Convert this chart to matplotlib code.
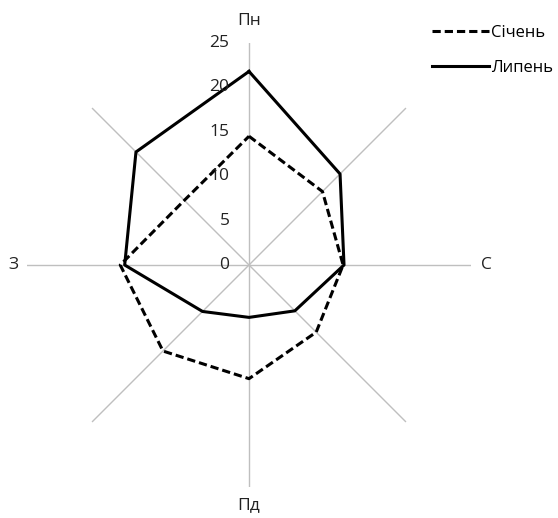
import numpy as np
import matplotlib
matplotlib.use("Agg")
import matplotlib.pyplot as plt

plt.rcParams['font.family'] = ['Open Sans', 'DejaVu Sans']

directions = ["Пн", "ПнС", "С", "ПдС", "Пд", "ПдЗ", "З", "ПнЗ"]
shown_labels = ["Пн", "", "С", "", "Пд", "", "З", ""]
jan = [14.5, 11.7, 10.6, 10.7, 12.8, 13.7, 14.5, 10.3]
jul = [21.8, 14.5, 10.7, 7.3, 5.9, 7.4, 14.0, 18.0]
r_ticks = [0, 5, 10, 15, 20, 25]
series_names = ["Січень", "Липень"]

fig = plt.figure(figsize=(5.58, 5.18), dpi=100)
ax = fig.add_axes([27/558, 31/518, 444/558, 444/518], projection='polar')
ax.set_theta_zero_location('N')
ax.set_theta_direction(-1)
ax.set_ylim(0, 25)

n = len(directions)
theta = np.arange(n) * 2 * np.pi / n
tc = np.append(theta, theta[0])

ax.plot(tc, jan + jan[:1], color='black', lw=2.2, linestyle=(0, (2.7, 1.3)),
        label=series_names[0], zorder=3)
ax.plot(tc, jul + jul[:1], color='black', lw=2.2, label=series_names[1], zorder=3)

# spokes
for t in theta:
    ax.plot([t, t], [0, 25], color='#bfbfbf', lw=1, zorder=1)

ax.grid(False)
ax.spines['polar'].set_visible(False)
ax.set_xticks([])
ax.set_yticks([])
ax.patch.set_alpha(0)

for r in r_ticks:
    ax.annotate(str(r), xy=(0, r), xytext=(-14, 0), textcoords='offset points',
                ha='right', va='center', fontsize=12.5, color='#222222')

offsets = {0: (0, 16, 'center', 'center'), 2: (7, 0, 'left', 'center'),
           4: (0, -13, 'center', 'center'), 6: (-6, 0, 'right', 'center')}
for i, lab in enumerate(shown_labels):
    if lab:
        dx, dy, ha, va = offsets[i]
        ax.annotate(lab, xy=(theta[i], 25), xytext=(dx, dy), textcoords='offset points',
                    ha=ha, va=va, fontsize=12.5, color='#222222')

fig.legend(loc='upper left', bbox_to_anchor=(432/558, 1 - 25/518), frameon=False,
           fontsize=12, handlelength=3.4, handletextpad=0.15, labelspacing=1.15,
           borderpad=0, borderaxespad=0)

fig.savefig('out.png', dpi=100)
